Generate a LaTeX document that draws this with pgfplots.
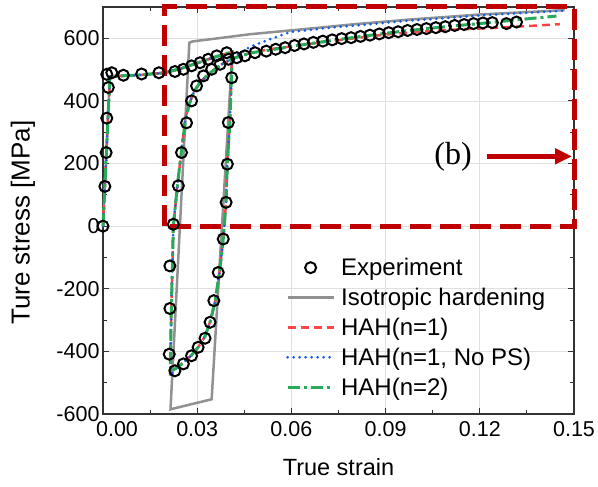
\documentclass[border=0pt]{standalone}
\usepackage{pgfplots}
\pgfplotsset{compat=1.18}
\usepackage{fontspec}
\setmainfont{Liberation Sans}
\newfontfamily\timesfont{Liberation Serif}
\usetikzlibrary{arrows.meta}

\definecolor{isogray}{RGB}{145,145,145}
\definecolor{hahred}{RGB}{250,70,70}
\definecolor{hahblue}{RGB}{25,95,230}
\definecolor{hahgreen}{RGB}{40,170,90}
\definecolor{boxred}{RGB}{192,0,0}

\begin{document}
\begin{tikzpicture}
\useasboundingbox (0,0) rectangle (598pt,487pt);
\begin{axis}[
  at={(103pt,73pt)}, anchor=south west,
  scale only axis, width=471pt, height=407pt,
  xmin=0, xmax=0.15, ymin=-600, ymax=700,
  xtick={0,0.03,0.06,0.09,0.12,0.15},
  xticklabels={\hspace{28pt}0.00,0.03,0.06,0.09,0.12,0.15},
  ytick={-600,-400,-200,0,200,400,600},
  minor x tick num=1, minor y tick num=1,
  /pgf/number format/assume math mode=true,
  tick label style={font=\fontsize{21.5}{24}\selectfont},
  xticklabel style={yshift=-4pt},
  xlabel={True strain}, ylabel={Ture stress [MPa]},
  xlabel style={font=\fontsize{23.5}{26}\selectfont, at={(axis description cs:0.5,-0.13)}, anchor=center},
  ylabel style={font=\fontsize{26}{28}\selectfont, at={(axis description cs:-0.17,0.47)}, anchor=center},
  grid=major, major grid style={black!12, line width=0.8pt},
  tick align=inside, major tick length=6pt, minor tick length=4pt,
  tick style={black!80, line width=1pt},
  axis line style={black!80, line width=1.2pt},
  clip=false,
  legend cell align=left,
  legend image code/.code={\draw[mark repeat=2,mark phase=2] plot coordinates {(0pt,0pt) (23pt,0pt) (46pt,0pt)};},
  legend style={draw=none, fill=none, at={(axis description cs:0.382,0.393)}, anchor=north west,
    font=\fontsize{24}{27}\selectfont, row sep=7pt,
    /tikz/every odd column/.append style={column sep=4pt}},
]

% experiment: tension, reverse compression, re-tension and continued hardening
\addplot[only marks, mark=o, mark size=5.5pt, mark options={line width=2pt, black}] coordinates {
 (0,0) (0.0006,127) (0.001,235) (0.0012,345) (0.0017,443) (0.0012,485) (0.0028,490)
 (0.0065,482) (0.0123,486) (0.0178,490) (0.0229,494) (0.0256,501) (0.0282,512)
 (0.0309,522) (0.0335,533) (0.0362,544) (0.0394,554)
 (0.041,474) (0.0399,331) (0.0396,198) (0.0392,76) (0.0383,-41) (0.0367,-148)
 (0.0353,-238) (0.0341,-307) (0.0325,-358) (0.0303,-387) (0.0282,-414) (0.0256,-440)
 (0.0229,-462) (0.0211,-409) (0.0213,-263) (0.0213,-127) (0.0224,6) (0.024,129)
 (0.025,235) (0.0266,330) (0.0282,400) (0.0298,448) (0.032,480) (0.0346,501)
 (0.0373,517) (0.04,533) (0.0426,538) (0.0452,544) (0.0484,554)
 (0.052,559) (0.055,565) (0.058,570) (0.061,577) (0.064,582) (0.067,587) (0.070,591)
 (0.073,595) (0.076,599) (0.079,602) (0.082,606) (0.085,610) (0.088,614) (0.091,618)
 (0.094,621) (0.097,625) (0.100,628) (0.103,631) (0.106,634) (0.109,637) (0.112,641)
 (0.115,644) (0.118,647) (0.121,649) (0.124,650) (0.1285,647) (0.1317,652)
};
\addlegendentry{Experiment}

% isotropic hardening
\addplot[isogray, line width=2.5pt] coordinates {
 (0,0) (0.0022,478) (0.006,480) (0.012,483) (0.0197,490) (0.025,504) (0.03,521)
 (0.035,538) (0.0412,557) (0.0346,-553) (0.0215,-585) (0.0275,586) (0.0285,590)
 (0.035,598) (0.0468,613) (0.0627,628) (0.08,645) (0.0978,660) (0.12,676) (0.147,690)
};
\addlegendentry{Isotropic hardening}

% HAH(n=1)
\addplot[hahred, line width=2.5pt, dash pattern=on 8pt off 5pt] coordinates {
 (0,0) (0.0022,478) (0.006,480) (0.012,483) (0.0197,490) (0.025,504) (0.03,521)
 (0.035,538) (0.0412,557) (0.0404,330) (0.0396,200) (0.0392,76) (0.0383,-41)
 (0.0372,-140) (0.0358,-235) (0.0343,-300) (0.0325,-352) (0.0303,-387) (0.0282,-412)
 (0.0256,-436) (0.0235,-452) (0.0214,-470) (0.0218,-250) (0.0224,0) (0.0238,140)
 (0.025,240) (0.0262,345) (0.0275,392) (0.029,430) (0.031,460) (0.0335,485)
 (0.0378,517) (0.042,538) (0.0474,554) (0.053,565) (0.06,574) (0.07,588) (0.08,600)
 (0.09,612) (0.1,620) (0.11,627) (0.1264,634) (0.1455,645)
};
\addlegendentry{HAH(n=1)}

% HAH(n=1) without permanent softening
\addplot[hahblue, line width=3pt, line cap=round, dash pattern=on 0pt off 6pt] coordinates {
 (0,0) (0.0022,478) (0.006,480) (0.012,483) (0.0197,490) (0.025,504) (0.03,521)
 (0.035,538) (0.0412,557) (0.0404,330) (0.0396,200) (0.0392,76) (0.0383,-41)
 (0.0372,-140) (0.0358,-235) (0.0343,-300) (0.0325,-352) (0.0303,-387) (0.0282,-412)
 (0.0256,-436) (0.0235,-452) (0.0214,-478) (0.0218,-250) (0.0224,0) (0.0238,140)
 (0.025,240) (0.0262,340) (0.0275,390) (0.029,430) (0.031,460) (0.0335,485)
 (0.0378,517) (0.042,540) (0.0468,573) (0.0532,597) (0.0596,620) (0.0723,634)
 (0.085,645) (0.0967,656) (0.11,665) (0.12,673) (0.1465,688)
};
\addlegendentry{HAH(n=1, No PS)}

% HAH(n=2)
\addplot[hahgreen, line width=3pt, dash pattern=on 12pt off 4pt on 3pt off 4pt] coordinates {
 (0,0) (0.0022,478) (0.006,480) (0.012,483) (0.0197,490) (0.025,504) (0.03,521)
 (0.035,538) (0.0412,557) (0.0404,330) (0.0396,200) (0.0392,76) (0.0383,-41)
 (0.0372,-140) (0.0358,-235) (0.0343,-300) (0.0325,-352) (0.0303,-387) (0.0282,-412)
 (0.0256,-436) (0.0235,-452) (0.0214,-466) (0.0218,-250) (0.0224,0) (0.0238,140)
 (0.025,240) (0.0262,335) (0.0275,390) (0.029,430) (0.031,460) (0.0335,485)
 (0.0378,517) (0.042,538) (0.0474,554) (0.053,562) (0.06,574) (0.068,586) (0.08,603)
 (0.0956,623) (0.11,638) (0.121,648) (0.1328,660) (0.1444,671)
};
\addlegendentry{HAH(n=2)}

% highlighted region and its pointer
\draw[boxred, line width=5pt, dash pattern=on 21pt off 9pt]
  (axis cs:0.0197,0) rectangle (axis cs:0.15,700);
\node[font=\timesfont\fontsize{32}{34}\selectfont] at (axis cs:0.1115,221) {(b)};
\draw[boxred, line width=5pt, -{Triangle[length=17pt,width=15pt]}]
  (axis cs:0.1223,223) -- (axis cs:0.1494,223);
\end{axis}
\end{tikzpicture}
\end{document}
